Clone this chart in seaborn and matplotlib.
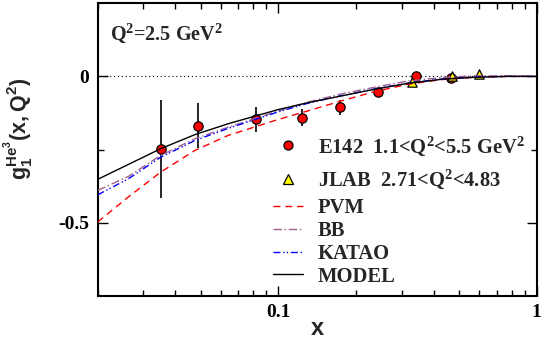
import numpy as np
import pandas as pd
import matplotlib
matplotlib.use("Agg")
import matplotlib.pyplot as plt
from matplotlib.lines import Line2D
from matplotlib.ticker import FixedLocator, FixedFormatter, LogLocator, NullFormatter
import seaborn as sns

# E142 measurements of g1 of 3He
e142_x = [0.035, 0.049, 0.082, 0.123, 0.173, 0.243, 0.342, 0.466]
e142_g1 = [-0.249, -0.169, -0.147, -0.141, -0.106, -0.052, 0.001, -0.004]
e142_err = [0.168, 0.077, 0.044, 0.028, 0.025, 0.012, 0.008, 0.008]

# JLAB measurements
jlab_x = [0.33, 0.47, 0.60]
jlab_g1 = [-0.020, 0.001, 0.007]

# model curves at Q^2 = 2.5 GeV^2
curve_x = [0.02, 0.0263, 0.0351, 0.0476, 0.0639, 0.0993, 0.13, 0.175, 0.236, 0.317, 0.428, 0.576, 0.77, 1.0]
pvm = [-0.498, -0.412, -0.327, -0.253, -0.202, -0.148, -0.118, -0.084, -0.052, -0.027, -0.011, -0.003, 0.0, 0.0]
bb = [-0.390, -0.342, -0.270, -0.213, -0.174, -0.119, -0.088, -0.060, -0.037, -0.016, -0.004, 0.002, 0.002, 0.0]
katao = [-0.405, -0.350, -0.276, -0.219, -0.178, -0.122, -0.092, -0.066, -0.043, -0.023, -0.009, -0.002, 0.0, 0.0]
model = [-0.352, -0.301, -0.247, -0.199, -0.162, -0.114, -0.090, -0.067, -0.044, -0.024, -0.010, -0.003, 0.0, 0.0]

sns.set_theme(style="ticks")
plt.rcParams.update({
    "font.family": ["Liberation Serif", "DejaVu Serif"],
    "font.weight": "bold",
    "axes.unicode_minus": False,
    "mathtext.fontset": "custom",
    "mathtext.rm": "Liberation Serif:bold",
    "mathtext.bf": "Liberation Serif:bold",
    "mathtext.it": "Liberation Serif:bold",
    "mathtext.sf": "Liberation Sans:bold",
})

fig = plt.figure(figsize=(5.48, 3.47), dpi=100)
ax = fig.add_axes([0.1783, 0.1478, 0.8011, 0.8427])
ax.set_xscale("log")
ax.set_xlim(0.02, 1.0)
ax.set_ylim(-0.75, 0.25)

ax.axhline(0, color="black", lw=0.8, ls=(0, (1, 2.5)), zorder=1)

# data
ax.errorbar(e142_x, e142_g1, yerr=e142_err, fmt="none", ecolor="black", elinewidth=1.2, capsize=0, zorder=2)
e142_df = pd.DataFrame({"x": e142_x, "g1": e142_g1})
jlab_df = pd.DataFrame({"x": jlab_x, "g1": jlab_g1})
sns.scatterplot(data=e142_df, x="x", y="g1", ax=ax, marker="o", s=45, color="#ff0000",
                edgecolor="black", linewidth=0.9, zorder=3, legend=False)
sns.scatterplot(data=jlab_df, x="x", y="g1", ax=ax, marker="^", s=45, color="#ffff00",
                edgecolor="black", linewidth=0.9, zorder=3, legend=False)

# curves
curves = pd.DataFrame({"x": curve_x, "PVM": pvm, "BB": bb, "KATAO": katao, "MODEL": model})
styles = {
    "PVM": dict(color="#ff0000", dashes=(5, 3.5)),
    "BB": dict(color="#a0608f", dashes=(6, 2, 1, 2)),
    "KATAO": dict(color="#0000ff", dashes=(5, 2, 1, 1.5, 1, 2)),
    "MODEL": dict(color="black", dashes=()),
}
for name, st in styles.items():
    sns.lineplot(data=curves, x="x", y=name, ax=ax, color=st["color"], lw=1.0,
                 estimator=None, sort=False, zorder=4, legend=False)
    if st["dashes"]:
        ax.lines[-1].set_dashes(st["dashes"])

# axes styling
for sp in ax.spines.values():
    sp.set_visible(True)
    sp.set_linewidth(1.5)
    sp.set_color("black")
ax.xaxis.set_major_locator(FixedLocator([0.1, 1.0]))
ax.xaxis.set_major_formatter(FixedFormatter(["0.1", "1"]))
ax.xaxis.set_minor_locator(LogLocator(base=10, subs=np.arange(2, 10)))
ax.xaxis.set_minor_formatter(NullFormatter())
ax.yaxis.set_major_locator(FixedLocator([-0.5, 0.0]))
ax.yaxis.set_major_formatter(FixedFormatter(["-0.5", "0"]))
ax.yaxis.set_minor_locator(FixedLocator([-0.25]))
ax.tick_params(which="both", direction="in", top=True, right=True, width=1.0, colors="black",
               labelsize=14, pad=6)
ax.tick_params(which="major", length=7)
ax.tick_params(which="minor", length=4)
for lab in ax.get_xticklabels() + ax.get_yticklabels():
    lab.set_fontweight("bold")

ax.set_xlabel("x", fontsize=17, fontweight="bold", family="Liberation Sans")
ax.xaxis.set_label_coords(0.5, -0.072)
ax.set_ylabel(r"$\mathsf{g_1^{He^3}(x,Q^2)}$", fontsize=15.5, family="Liberation Sans")
ax.yaxis.set_label_coords(-0.142, 0.57)

ax.text(0.028, 0.874, r"Q$^2$=2.5 GeV$^2$", transform=ax.transAxes, fontsize=14.5,
        fontweight="bold", va="baseline", ha="left")

legend_font = {"family": "Liberation Serif", "weight": "bold", "size": 14.8}
data_handles = [
    Line2D([], [], ls="none", marker="o", markersize=6.5, markerfacecolor="#ff0000", markeredgecolor="black", markeredgewidth=0.9),
    Line2D([], [], ls="none", marker="^", markersize=6.5, markerfacecolor="#ffff00", markeredgecolor="black", markeredgewidth=0.9),
]
data_labels = [r"E142  1.1<Q$^2$<5.5 GeV$^2$", r"JLAB  2.71<Q$^2$<4.83"]
leg_data = ax.legend(data_handles, data_labels, loc="upper left", bbox_to_anchor=(0.399, 0.552),
                     frameon=False, handlelength=1.47, handletextpad=0.71, labelspacing=0.5,
                     borderpad=0, borderaxespad=0, prop=legend_font)
ax.add_artist(leg_data)

curve_handles = [
    Line2D([], [], color="#ff0000", lw=1.0, dashes=(5, 3.5)),
    Line2D([], [], color="#a0608f", lw=1.0, dashes=(6, 2, 1, 2)),
    Line2D([], [], color="#0000ff", lw=1.0, dashes=(5, 2, 1, 1.5, 1, 2)),
    Line2D([], [], color="black", lw=1.0),
]
ax.legend(curve_handles, ["PVM", "BB", "KATAO", "MODEL"], loc="upper left",
          bbox_to_anchor=(0.399, 0.334), frameon=False, handlelength=1.47, handletextpad=0.71,
          labelspacing=0.14, borderpad=0, borderaxespad=0, prop=legend_font)

fig.savefig("out.png", dpi=100)
